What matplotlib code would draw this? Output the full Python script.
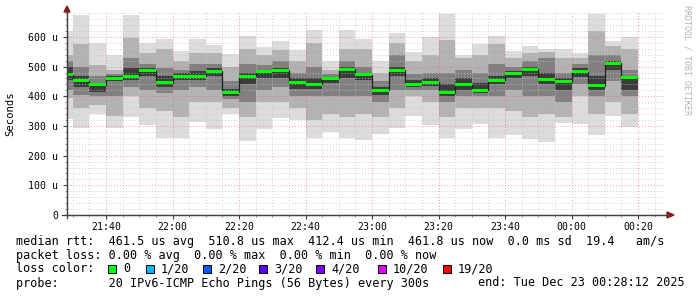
import numpy as np
import matplotlib
matplotlib.use('Agg')
import matplotlib.pyplot as plt
from matplotlib.ticker import MultipleLocator, FixedLocator
from matplotlib.patches import Rectangle, Polygon

plt.rcParams['font.family'] = 'DejaVu Sans Mono'

# 5-minute buckets, minutes after 21:00 (bucket end times 21:30 .. 00:20)
bucket_end = np.arange(30, 201, 5)

# median rtt per bucket (us)
median = [473, 452, 439, 461, 468, 486, 446, 468, 468, 485, 413, 468, 482, 488, 446,
          441, 461, 491, 473, 420, 488, 440, 448, 412.4, 439, 421, 454, 476, 491, 458,
          449, 483, 436, 510.8, 461.8]

# smoke: outer band (min..max ping) and three inner bands
ping_min = [325, 294, 339, 294, 331, 303, 258, 258, 313, 290, 339, 250, 290, 328, 320,
            258, 279, 258, 253, 273, 292, 335, 303, 258, 290, 307, 258, 270, 255, 247,
            309, 307, 270, 334, 298]
ping_max = [620, 674, 579, 539, 674, 581, 592, 554, 592, 573, 541, 603, 567, 587, 556,
            623, 519, 623, 593, 519, 614, 550, 599, 676, 539, 575, 604, 554, 571, 559,
            559, 547, 676, 586, 601]
band2_lo = [394, 360, 370, 335, 400, 360, 350, 330, 380, 380, 360, 330, 380, 380, 360,
            320, 340, 330, 340, 330, 360, 400, 380, 330, 360, 360, 360, 350, 330, 340,
            330, 400, 340, 380, 340]
band2_hi = [540, 575, 505, 490, 595, 545, 560, 520, 545, 545, 500, 560, 540, 555, 520,
            580, 490, 560, 560, 480, 580, 520, 540, 590, 530, 540, 575, 530, 545, 550,
            530, 530, 620, 570, 560]
band3_lo = [420, 405, 400, 400, 430, 420, 410, 420, 430, 420, 390, 380, 420, 430, 400,
            400, 400, 400, 400, 380, 420, 420, 420, 380, 400, 400, 400, 420, 400, 400,
            380, 440, 400, 450, 400]
band3_hi = [520, 500, 470, 475, 530, 510, 495, 490, 510, 510, 450, 510, 505, 520, 480,
            500, 475, 520, 500, 450, 540, 475, 480, 480, 490, 480, 510, 500, 520, 530,
            480, 510, 540, 540, 490]
band4_lo = [455, 430, 415, 450, 455, 470, 430, 455, 455, 470, 400, 440, 460, 460, 425,
            425, 445, 460, 455, 405, 470, 430, 435, 400, 420, 410, 440, 460, 470, 440,
            420, 465, 420, 490, 420]
band4_hi = [500, 470, 445, 468, 495, 495, 470, 480, 485, 495, 425, 480, 490, 495, 460,
            460, 465, 500, 480, 430, 500, 455, 460, 440, 460, 445, 470, 485, 500, 480,
            460, 495, 470, 520, 470]

time_ticks = [40, 60, 80, 100, 120, 140, 160, 180, 200]
time_labels = ['21:40', '22:00', '22:20', '22:40', '23:00', '23:20', '23:40', '00:00', '00:20']
y_ticks = [0, 100, 200, 300, 400, 500, 600]
y_labels = ['0', '100 u', '200 u', '300 u', '400 u', '500 u', '600 u']

loss_labels = ['0', '1/20', '2/20', '3/20', '4/20', '10/20', '19/20']
loss_colors = ['#00ff00', '#00b8ff', '#0059ff', '#5e00ff', '#7e00ff', '#dd00ff', '#ff0000']

W, H = 697, 297


def px(x, y):
    return (x / W, 1 - y / H)


fig = plt.figure(figsize=(W / 100, H / 100), dpi=100)
fig.patch.set_facecolor('white')
ax = fig.add_axes([66.8 / W, 82 / H, 598.5 / W, 203 / H])
ax.set_facecolor('white')

starts = bucket_end - 5
bands = [(ping_min, ping_max, '#dcdcdc'),
         (band2_lo, band2_hi, '#b2b2b2'),
         (band3_lo, band3_hi, '#808080'),
         (band4_lo, band4_hi, '#3c3c3c')]
for lo, hi, col in bands:
    lo = np.array(lo, dtype=float)
    hi = np.array(hi, dtype=float)
    ax.bar(starts, hi - lo, bottom=lo, width=5, align='edge', color=col,
           linewidth=0, zorder=1)

med = np.array(median)
edges = np.append(starts, bucket_end[-1])
ax.stairs(med, edges, baseline=None, color='#202020', lw=0.9, zorder=3)
ax.bar(starts, 10, bottom=med - 5, width=5, align='edge', color='#00ff00',
       linewidth=0, zorder=4)

ax.set_xlim(28.2, 208.2)
ax.set_ylim(0, 684)
ax.xaxis.set_major_locator(FixedLocator(time_ticks))
ax.set_xticklabels(time_labels)
ax.xaxis.set_minor_locator(MultipleLocator(5))
ax.yaxis.set_major_locator(FixedLocator(y_ticks))
ax.set_yticklabels(y_labels)
ax.yaxis.set_minor_locator(MultipleLocator(20))

ax.set_axisbelow(False)
ax.grid(which='minor', color='#c4c4c4', alpha=0.8, linestyle=(0, (1, 2)), lw=0.7)
ax.grid(which='major', color='#e06060', alpha=0.6, linestyle=(0, (1, 2)), lw=0.7)

for s in ['top', 'right']:
    ax.spines[s].set_visible(False)
for s in ['left', 'bottom']:
    ax.spines[s].set_color('#404040')
    ax.spines[s].set_linewidth(0.9)
ax.tick_params(which='major', length=3, width=0.8, color='#404040',
               labelsize=7.1, pad=2)
ax.tick_params(which='minor', length=1.5, width=0.6, color='#808080')
ax.tick_params(axis='y', pad=3)

# axis extensions and arrows
fig.add_artist(plt.Line2D([px(62, 215)[0], px(668, 215)[0]],
                          [px(62, 215)[1], px(668, 215)[1]],
                          color='#404040', lw=0.9))
fig.add_artist(plt.Line2D([px(67, 218)[0], px(67, 10)[0]],
                          [px(67, 218)[1], px(67, 10)[1]],
                          color='#404040', lw=0.9))
fig.add_artist(Polygon([px(667, 212), px(674, 215), px(667, 218)], closed=True,
                       color='#8b1a1a', transform=fig.transFigure))
fig.add_artist(Polygon([px(64, 12), px(67, 6), px(70, 12)], closed=True,
                       color='#8b1a1a', transform=fig.transFigure))

fig.text(*px(10, 114), 'Seconds', rotation=90, ha='center', va='center', fontsize=7.7)
fig.text(*px(687, 60), 'RRDTOOL / TOBI OETIKER', rotation=-90, ha='center',
         va='center', fontsize=6, color='#b4b4b4')

fs = 8.5
fig.text(*px(16, 241), 'median rtt:  461.5 us avg  510.8 us max  412.4 us min  '
         '461.8 us now  0.0 ms sd  19.4   am/s', ha='left', va='center', fontsize=fs)
fig.text(*px(16, 255), 'packet loss: 0.00 % avg  0.00 % max  0.00 % min  0.00 % now',
         ha='left', va='center', fontsize=fs)
fig.text(*px(16, 269), 'loss color:', ha='left', va='center', fontsize=fs)
box_x = [108, 146, 203, 259, 316, 378, 443]
for bx, lab, col in zip(box_x, loss_labels, loss_colors):
    x0, y0 = px(bx, 273)
    fig.add_artist(Rectangle((x0, y0), 8 / W, 8 / H, facecolor=col, edgecolor='black',
                             lw=0.7, transform=fig.transFigure))
    fig.text(*px(bx + 15, 269), lab, ha='left', va='center', fontsize=fs)
fig.text(*px(16, 283), 'probe:       20 IPv6-ICMP Echo Pings (56 Bytes) every 300s',
         ha='left', va='center', fontsize=fs)
fig.text(*px(478, 283), 'end: Tue Dec 23 00:28:12 2025', ha='left', va='center',
         fontsize=fs)

fig.savefig('out.png', dpi=100)
